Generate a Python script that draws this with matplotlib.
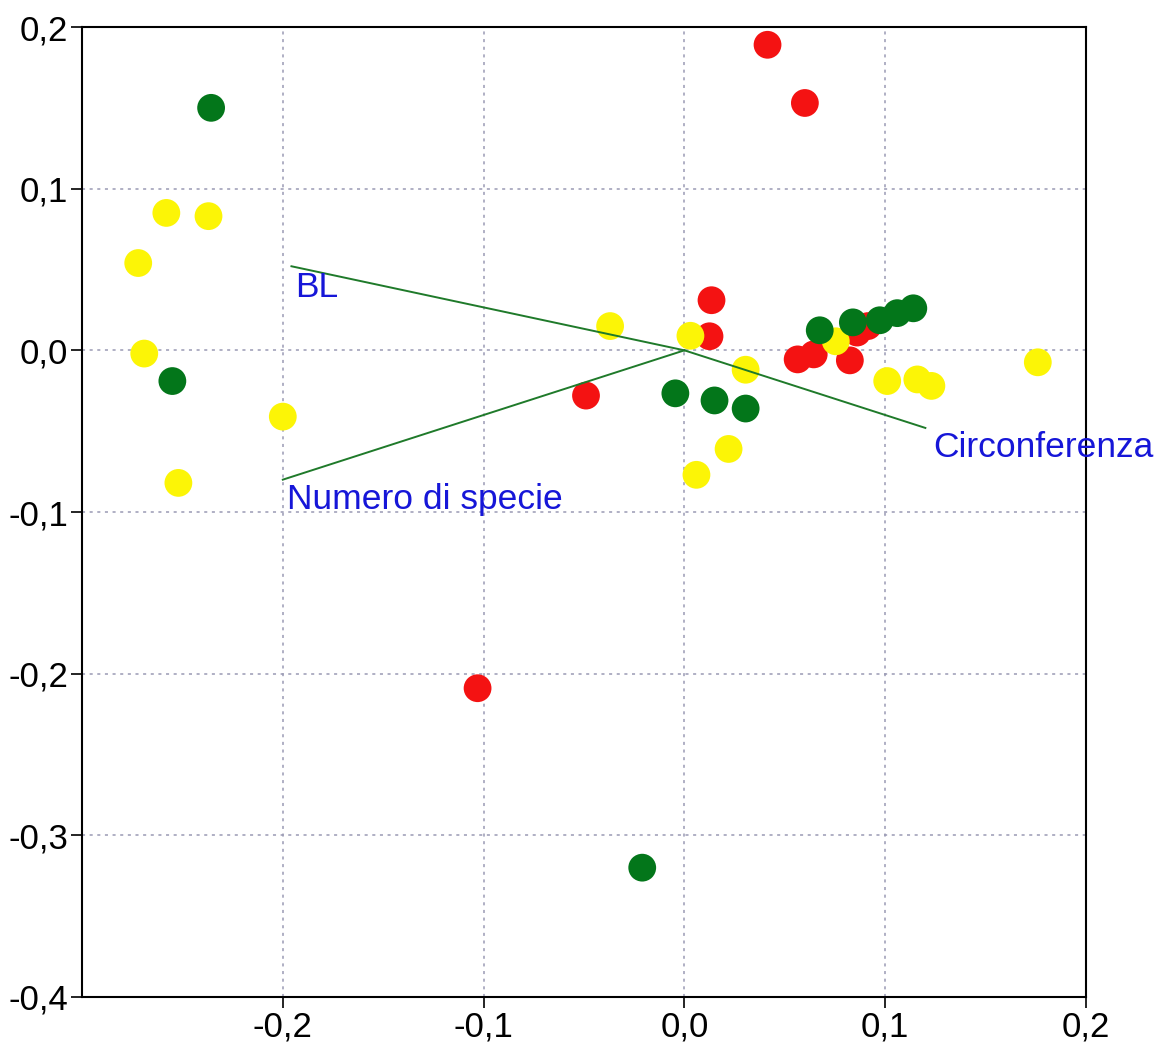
import matplotlib
matplotlib.use("Agg")
import matplotlib.pyplot as plt
from matplotlib.ticker import FixedLocator, FuncFormatter

plt.rcParams['font.family'] = ['Liberation Sans', 'DejaVu Sans']

# Site scores by group
red_x = [0.0414, 0.060, 0.0135, 0.0125, -0.049, -0.103, 0.0564, 0.0644, 0.0824, 0.086, 0.0914]
red_y = [0.189, 0.153, 0.031, 0.0087, -0.028, -0.209, -0.0056, -0.0025, -0.0062, 0.011, 0.015]

yellow_x = [-0.272, -0.258, -0.237, -0.269, -0.252, -0.200, -0.037, 0.003, 0.0305, 0.022,
            0.006, 0.0754, 0.101, 0.116, 0.123, 0.176]
yellow_y = [0.054, 0.085, 0.083, -0.002, -0.082, -0.041, 0.015, 0.009, -0.012, -0.061,
            -0.077, 0.0056, -0.019, -0.018, -0.022, -0.0074]

green_x = [-0.2357, -0.255, -0.0045, 0.015, 0.0305, -0.021, 0.0674, 0.0839, 0.0973, 0.106, 0.114]
green_y = [0.150, -0.019, -0.0266, -0.031, -0.036, -0.320, 0.0124, 0.0173, 0.0186, 0.023, 0.026]

# Environmental vectors
vec_names = ["BL", "Numero di specie", "Circonferenza"]
vec_x = [-0.1957, -0.200, 0.120]
vec_y = [0.052, -0.080, -0.048]

x_ticks = [-0.2, -0.1, 0.0, 0.1, 0.2]
y_ticks = [-0.4, -0.3, -0.2, -0.1, 0.0, 0.1, 0.2]

fig = plt.figure(figsize=(11.61, 10.45), dpi=100)
ax = fig.add_axes([82 / 1161, 1 - 997 / 1045, (1086 - 82) / 1161, (997 - 27) / 1045])
ax.set_xlim(-0.3, 0.2)
ax.set_ylim(-0.4, 0.2)

# grid
for gx in x_ticks[:-1]:
    ax.axvline(gx, color='#9a9ab4', lw=1.1, ls=(0, (2, 3)), zorder=1)
for gy in y_ticks[1:-1]:
    ax.axhline(gy, color='#9a9ab4', lw=1.1, ls=(0, (2, 3)), zorder=1)

ms = 400
ax.scatter(red_x, red_y, s=ms, c='#f41212', edgecolors='none', zorder=3)
ax.scatter(yellow_x, yellow_y, s=ms, c='#fcf506', edgecolors='none', zorder=4)
ax.scatter(green_x, green_y, s=ms, c='#03761a', edgecolors='none', zorder=5)

for name, vx, vy in zip(vec_names, vec_x, vec_y):
    ax.plot([0, vx], [0, vy], color='#1f7a2a', lw=1.4, zorder=6)

txt_kw = dict(color='#1616d8', fontsize=25.5, zorder=7, clip_on=False)
ax.text(vec_x[0] + 0.002, vec_y[0] - 0.003, vec_names[0], ha='left', va='top', **txt_kw)
ax.text(vec_x[1] + 0.002, vec_y[1] - 0.002, vec_names[1], ha='left', va='top', **txt_kw)
ax.text(vec_x[2] + 0.004, vec_y[2] - 0.002, vec_names[2], ha='left', va='top', **txt_kw)

fmt = FuncFormatter(lambda v, p: ("%.1f" % v).replace('.', ',').replace('-0,0', '0,0'))
ax.xaxis.set_major_locator(FixedLocator(x_ticks))
ax.yaxis.set_major_locator(FixedLocator(y_ticks))
ax.xaxis.set_major_formatter(fmt)
ax.yaxis.set_major_formatter(fmt)
ax.tick_params(direction='out', length=8, width=1.2, labelsize=25, pad=2, colors='black')

for sp in ax.spines.values():
    sp.set_linewidth(1.5)
    sp.set_color('black')

fig.savefig("out.png", dpi=100)
